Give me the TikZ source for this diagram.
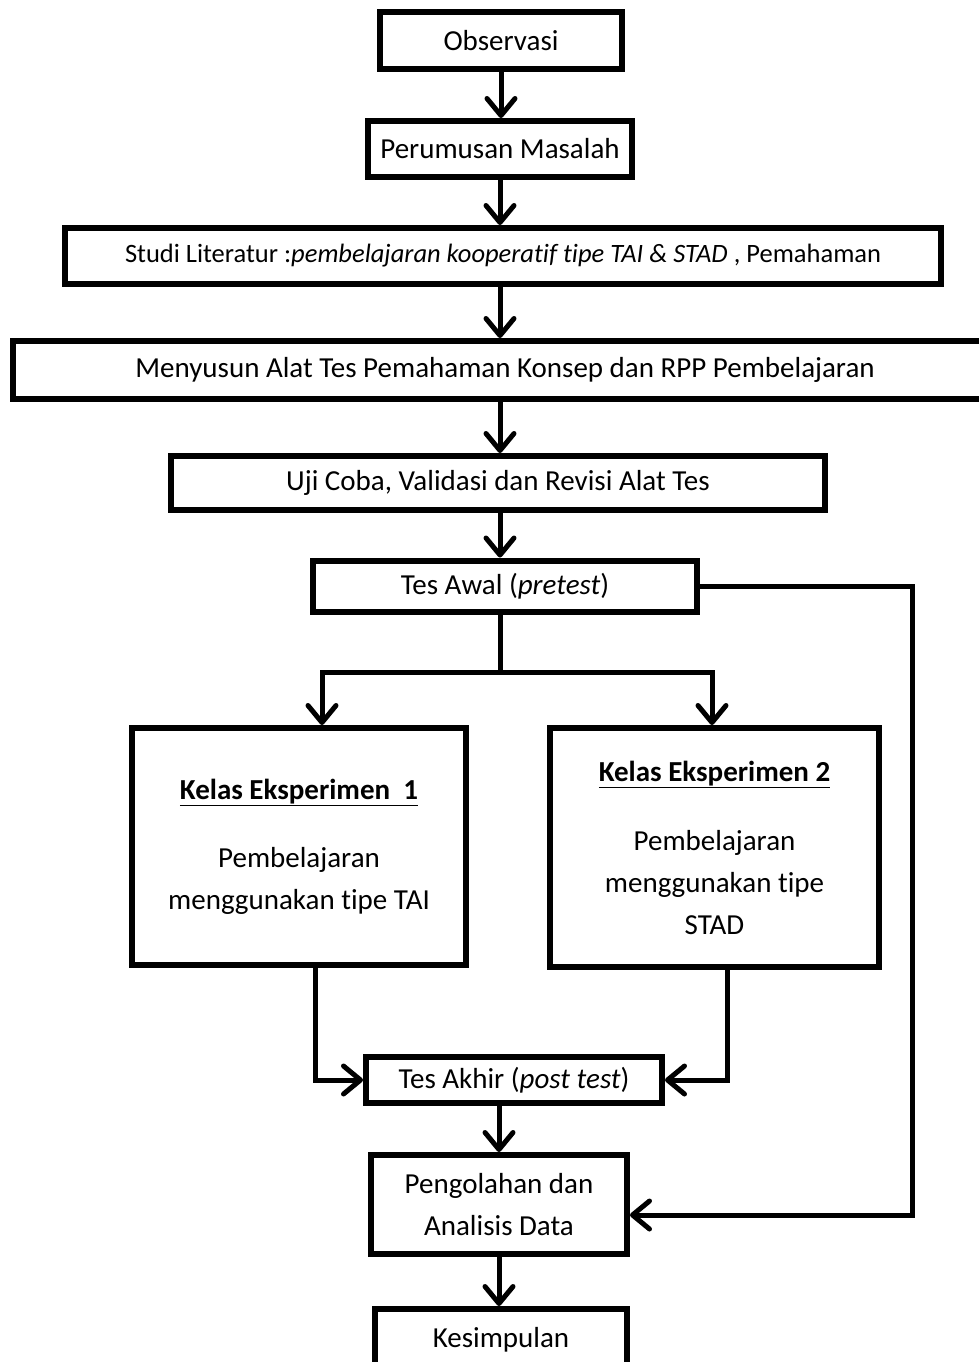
\documentclass[tikz,border=0pt]{standalone}
\usepackage{fontspec}
\setmainfont{Carlito}[Ligatures=NoCommon]
\usetikzlibrary{arrows.meta}

\begin{document}
\begin{tikzpicture}[x=1pt,y=-1pt,
  kotak/.style={draw, line width=6pt, inner sep=0pt, align=center, font=\fontsize{29}{42}\selectfont},
  garis/.style={line width=5pt},
  panah/.style={garis, -{Straight Barb[length=17pt,width=28pt,round]}}]
\useasboundingbox (0,0) rectangle (979,1362);
\clip (0,0) rectangle (979,1362);

\node[kotak, minimum width=242pt, minimum height=57pt] (obs) at (501,40.5) {Observasi};
\node[kotak, minimum width=264pt, minimum height=56pt] (rumus) at (500,149) {Perumusan Masalah};
\node[kotak, minimum width=876pt, minimum height=56pt, font=\fontsize{26.5}{32}\selectfont] (studi) at (503,256) {Studi Literatur :\textit{pembelajaran kooperatif tipe TAI \& STAD} , Pemahaman};
\node[kotak, minimum width=984pt, minimum height=58pt] (susun) at (505,370) {Menyusun Alat Tes Pemahaman Konsep dan RPP Pembelajaran};
\node[kotak, minimum width=654pt, minimum height=54pt] (uji) at (498,483) {Uji Coba, Validasi dan Revisi Alat Tes};
\node[kotak, minimum width=384pt, minimum height=51pt] (awal) at (505,586) {Tes Awal (\textit{pretest})};
\node[kotak, minimum width=334pt, minimum height=237pt] (eks1) at (299,846.5) {\underline{\textbf{Kelas Eksperimen\ \ 1}}\\[26pt] Pembelajaran\\ menggunakan tipe TAI};
\node[kotak, minimum width=329pt, minimum height=239pt] (eks2) at (714.5,847.5) {\underline{\textbf{Kelas Eksperimen 2}}\\[27pt] Pembelajaran\\ menggunakan tipe\\ STAD};
\node[kotak, minimum width=296pt, minimum height=46pt] (akhir) at (514,1080) {Tes Akhir (\textit{post test})};
\node[kotak, minimum width=256pt, minimum height=99pt] (olah) at (499,1204.5) {Pengolahan dan\\ Analisis Data};
\node[kotak, minimum width=252pt, minimum height=62pt] (simpul) at (501,1340) {Kesimpulan};

% titik bantu untuk cabang
\coordinate (cabang) at (500,672);
\coordinate (cabangkiri) at (322,672);
\coordinate (cabangkanan) at (712,672);
\coordinate (turun1) at (315,0);
\coordinate (turun2) at (727,0);
\coordinate (balik) at (912,1215);

\draw[panah] (obs.south) -- (obs.south |- rumus.north);
\draw[panah] (rumus.south) -- (rumus.south |- studi.north);
\draw[panah] (studi.south -| rumus.south) -- (rumus.south |- susun.north);
\draw[panah] (susun.south -| rumus.south) -- (rumus.south |- uji.north);
\draw[panah] (uji.south -| rumus.south) -- (rumus.south |- awal.north);
\draw[panah] (awal.south -| cabang) -- (cabang) -| (cabangkiri |- eks1.north);
\draw[panah] (cabang) -| (cabangkanan |- eks2.north);
\draw[panah] (eks1.south -| turun1) |- (akhir.west);
\draw[panah] (eks2.south -| turun2) |- (akhir.east);
\draw[panah] (olah.north |- akhir.south) -- (olah.north);
\draw[panah] (olah.south) -- (olah.south |- simpul.north);
\draw[panah] (awal.east) -| (balik) -- (balik -| olah.east);
\end{tikzpicture}
\end{document}
